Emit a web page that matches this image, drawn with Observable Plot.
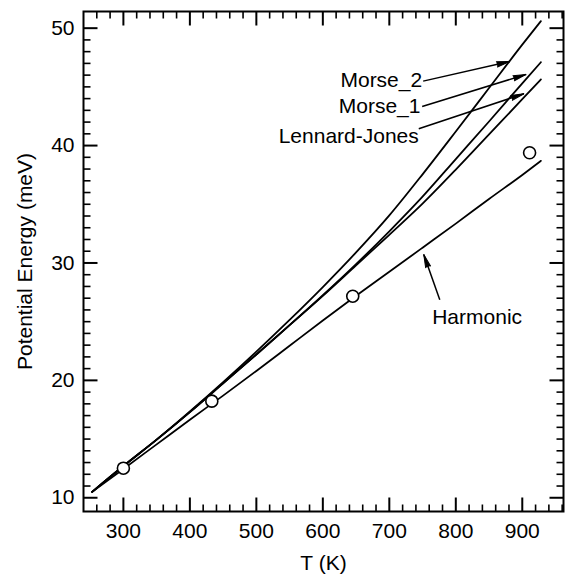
<!DOCTYPE html>
<html><head><meta charset="utf-8">
<script src="https://cdn.jsdelivr.net/npm/d3@7"></script>
<script src="https://cdn.jsdelivr.net/npm/@observablehq/plot@0.6"></script>
<style>body{margin:0;background:#fff;}</style>
</head><body><div id="chart"></div>
<script>
// ---- data ----
const T        = [253, 300, 350, 400, 450, 500, 550, 600, 650, 700, 750, 800, 850, 900, 928];
const harmonic = [10.5, 12.45, 14.55, 16.65, 18.7, 20.8, 22.95, 25.1, 27.2, 29.25, 31.3, 33.35, 35.45, 37.5, 38.7];
const morse2   = [10.5, 12.7, 14.95, 17.35, 19.85, 22.45, 25.15, 27.95, 30.9, 34.05, 37.55, 41.2, 44.9, 48.6, 50.6];
const morse1   = [10.5, 12.7, 14.95, 17.3, 19.75, 22.2, 24.7, 27.25, 29.9, 32.7, 35.65, 38.85, 42.05, 45.3, 47.1];
const lennardJones = [10.5, 12.7, 14.95, 17.3, 19.75, 22.2, 24.7, 27.2, 29.8, 32.4, 35.05, 37.95, 40.95, 43.95, 45.63];

const expT = [300, 433, 645, 911];
const expE = [12.52, 18.23, 27.17, 39.39];

const xMajor = [300, 400, 500, 600, 700, 800, 900];
const xMinor = d3.range(260, 961, 20).filter(v => v % 100 !== 0);
const yMajor = [10, 20, 30, 40, 50];
const yMinor = d3.range(11, 50, 1).filter(v => v % 10 !== 0);

// annotations (data units)
const labelText = ["Morse_2", "Morse_1", "Lennard-Jones"];
const labelT = [749.4, 746.8, 744.3];
const labelE = [45.59, 43.35, 40.79];
const arrowT1 = [750.9, 749.4, 744.3, 775.9];
const arrowE1 = [45.49, 43.33, 41.43, 26.87];
const arrowT2 = [880.9, 905.7, 902.4, 751.8];
const arrowE2 = [47.16, 46.06, 44.41, 30.72];
const harmonicLabel = "Harmonic";
const harmonicT = 764.5, harmonicE = 25.38;

// ---- layout ----
const W = 566, H = 574, mL = 83, mR = 3, mT = 11, mB = 63;
const xDomain = [240, 962], yDomain = [8.83, 51.42];
const font = "Liberation Sans, Arial, Helvetica, sans-serif";
const MAJ = 14, MIN = 7;

const xs = Plot.scale({x: {domain: xDomain, range: [mL, W - mR]}});
const ys = Plot.scale({y: {domain: yDomain, range: [H - mB, mT]}});
const yBot = yDomain[0], yTop = yDomain[1], xLeft = xDomain[0], xRight = xDomain[1];
const yUp = px => ys.invert(ys.apply(yBot) - px);
const yDown = px => ys.invert(ys.apply(yTop) + px);
const xIn = px => xs.invert(xs.apply(xLeft) + px);
const xBack = px => xs.invert(xs.apply(xRight) - px);

// tick segments as two-point polylines (id groups the two ends)
function tickPoints(len) {
  const pts = [];
  let id = 0;
  const seg = (x1, y1, x2, y2) => { pts.push({id, x: x1, y: y1}, {id, x: x2, y: y2}); id++; };
  const xv = len === MAJ ? xMajor : xMinor;
  const yv = len === MAJ ? yMajor : yMinor;
  xv.forEach(v => { seg(v, yBot, v, yUp(len)); seg(v, yTop, v, yDown(len)); });
  yv.forEach(v => { seg(xLeft, v, xIn(len), v); seg(xRight, v, xBack(len), v); });
  return pts;
}
const majorTicks = tickPoints(MAJ);
const minorTicks = tickPoints(MIN);

const series = [morse2, morse1, lennardJones, harmonic];
const lines = series.map(s => T.map((t, i) => ({T: t, E: s[i]})));
const exp = expT.map((t, i) => ({T: t, E: expE[i]}));
const labels = labelText.map((s, i) => ({s, T: labelT[i], E: labelE[i]}));
const arrows = arrowT1.map((t, i) => {
  const dx = xs.apply(arrowT2[i]) - xs.apply(t);
  const dy = ys.apply(arrowE2[i]) - ys.apply(arrowE1[i]);
  return {T1: t, E1: arrowE1[i], T2: arrowT2[i], E2: arrowE2[i], angle: Math.atan2(dx, -dy) * 180 / Math.PI};
});

const plot = Plot.plot({
  width: W, height: H,
  marginLeft: mL, marginRight: mR, marginTop: mT, marginBottom: mB,
  style: {fontFamily: font, fontSize: "21px", color: "black", background: "white"},
  x: {domain: xDomain, axis: null},
  y: {domain: yDomain, axis: null},
  marks: [
    // inward ticks on all four sides
    Plot.line(majorTicks, {x: "x", y: "y", z: "id", stroke: "black", strokeWidth: 2, strokeLinecap: "butt"}),
    Plot.line(minorTicks, {x: "x", y: "y", z: "id", stroke: "black", strokeWidth: 1.6, strokeLinecap: "butt"}),
    // curves
    ...lines.map(d => Plot.line(d, {x: "T", y: "E", curve: "monotone-x", stroke: "black", strokeWidth: 1.8})),
    // experimental points
    Plot.dot(exp, {x: "T", y: "E", r: 6, fill: "white", stroke: "black", strokeWidth: 1.6}),
    // annotation arrows
    Plot.link(arrows, {x1: "T1", y1: "E1", x2: "T2", y2: "E2", stroke: "black", strokeWidth: 1.5}),
    Plot.vector(arrows, {x: "T2", y: "E2", rotate: "angle", shape: "spike", anchor: "end", length: 13, r: 2.6, fill: "black", stroke: "black", strokeWidth: 1}),
    Plot.text(labels, {x: "T", y: "E", text: "s", textAnchor: "end", lineAnchor: "middle", fontSize: 21}),
    Plot.text([harmonicLabel], {x: () => harmonicT, y: () => harmonicE, text: d => d, textAnchor: "start", lineAnchor: "middle", fontSize: 21}),
    // tick labels
    Plot.text(xMajor, {x: d => d, y: () => yBot, dy: 12, text: d => String(d), textAnchor: "middle", lineAnchor: "top", fontSize: 21}),
    Plot.text(yMajor, {y: d => d, x: () => xLeft, dx: -9, text: d => String(d), textAnchor: "end", lineAnchor: "middle", fontSize: 21}),
    // axis titles
    Plot.text(["T (K)"], {frameAnchor: "bottom", dy: 52, text: d => d, textAnchor: "middle", lineAnchor: "middle", fontSize: 21}),
    Plot.text(["Potential Energy (meV)"], {frameAnchor: "left", dx: -58, rotate: -90, text: d => d, textAnchor: "middle", lineAnchor: "middle", fontSize: 21}),
    Plot.frame({stroke: "black", strokeWidth: 2})
  ]
});
document.getElementById("chart").appendChild(plot);
</script>
</body></html>
